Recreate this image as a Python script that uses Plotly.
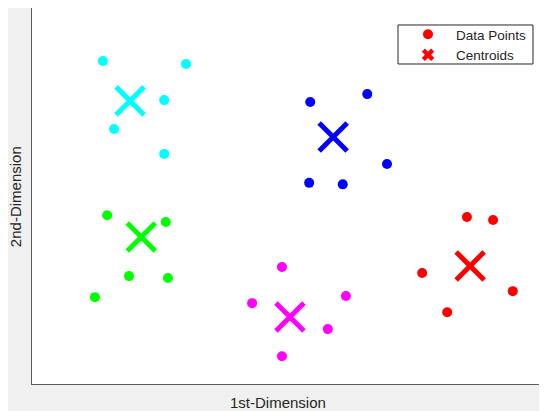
import plotly.graph_objects as go

# ---- data (arbitrary units) ----
cluster_names = ["cyan", "blue", "green", "magenta", "red"]
cluster_colors = ["#00ffff", "#0000ff", "#00ff00", "#ff00ff", "#ff0000"]

cyan_x = [1.33, 2.89, 2.48, 1.54, 2.48]
cyan_y = [8.59, 8.51, 7.55, 6.78, 6.12]
blue_x = [5.22, 6.29, 6.66, 5.20, 5.83]
blue_y = [7.50, 7.71, 5.85, 5.35, 5.31]
green_x = [1.41, 2.51, 1.82, 2.55, 1.18]
green_y = [4.49, 4.31, 2.87, 2.82, 2.31]
magenta_x = [4.69, 4.13, 5.89, 5.55, 4.69]
magenta_y = [3.11, 2.15, 2.34, 1.46, 0.74]
red_x = [8.16, 8.65, 7.32, 9.02, 7.79]
red_y = [4.44, 4.36, 2.95, 2.47, 1.91]

centroid_x = [1.84, 5.65, 2.05, 4.84, 8.22]
centroid_y = [7.53, 6.57, 3.91, 1.78, 3.14]

points_x = [cyan_x, blue_x, green_x, magenta_x, red_x]
points_y = [cyan_y, blue_y, green_y, magenta_y, red_y]

x_label = "1st-Dimension"
y_label = "2nd-Dimension"
legend_labels = ["Data Points", "Centroids"]

# ---- figure ----
fig = go.Figure()

for i, name in enumerate(cluster_names):
    fig.add_trace(go.Scatter(
        x=points_x[i], y=points_y[i], mode="markers",
        marker=dict(symbol="circle", size=10, color=cluster_colors[i]),
        showlegend=False, hoverinfo="x+y", name=name))
    fig.add_trace(go.Scatter(
        x=[centroid_x[i]], y=[centroid_y[i]], mode="markers",
        marker=dict(symbol="x-thin-open", size=28,
                    line=dict(width=5, color=cluster_colors[i]),
                    color=cluster_colors[i]),
        showlegend=False, hoverinfo="x+y", name=name + " centroid"))

# legend-only entries
fig.add_trace(go.Scatter(
    x=[None], y=[None], mode="markers", name=legend_labels[0],
    marker=dict(symbol="circle", size=10, color="#ff0000")))
fig.add_trace(go.Scatter(
    x=[None], y=[None], mode="markers", name=legend_labels[1],
    marker=dict(symbol="x", size=11, color="#ff0000")))

axis_common = dict(showgrid=False, zeroline=False, showticklabels=False,
                   ticks="", showline=True, mirror=True,
                   linecolor="#5a5a5a", linewidth=1, fixedrange=True)

fig.update_layout(
    width=539, height=403,
    margin=dict(l=24, r=0, t=0, b=27),
    paper_bgcolor="#f0f0f0",
    plot_bgcolor="#ffffff",
    font=dict(family="Liberation Sans, Arial, sans-serif", color="#262626"),
    xaxis=dict(range=[0, 9.662], **axis_common),
    yaxis=dict(range=[0, 10], **axis_common),
    legend=dict(x=0.7146, y=0.9707, xanchor="left", yanchor="top",
                bgcolor="rgba(0,0,0,0)", borderwidth=0,
                font=dict(size=13.5, color="#262626"),
                itemwidth=46, tracegroupgap=0),
    shapes=[
        dict(type="rect", xref="paper", yref="paper",
             x0=0.7107, x1=0.9728, y0=0.8511, y1=0.9548,
             fillcolor="#ffffff", line=dict(color="#262626", width=1),
             layer="below"),
    ],
    annotations=[
        dict(text=x_label, xref="paper", yref="paper", x=0.4786, y=-0.0479,
             xanchor="center", yanchor="middle", showarrow=False,
             font=dict(size=15, color="#262626")),
        dict(text=y_label, xref="paper", yref="paper", x=-0.033, y=0.497,
             xanchor="center", yanchor="middle", showarrow=False,
             textangle=-90, font=dict(size=15, color="#262626")),
    ],
)

fig.write_html("out.html")
